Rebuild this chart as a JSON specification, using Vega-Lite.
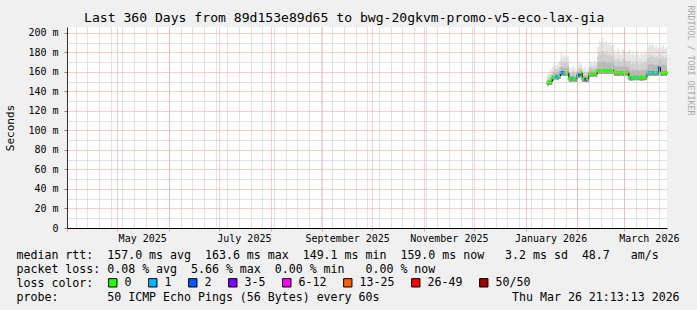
{
  "$schema": "https://vega.github.io/schema/vega-lite/v6.json",
  "width": 600,
  "height": 201,
  "autosize": {"type": "none"},
  "padding": {"left": 67, "top": 27, "right": 30, "bottom": 82},
  "background": "#f0f0f0",
  "config": {
    "view": {"stroke": null, "fill": "#ffffff"},
    "font": "DejaVu Sans Mono",
    "axis": {"labelFont": "DejaVu Sans Mono", "titleFont": "DejaVu Sans Mono", "labelColor": "#000000", "titleColor": "#000000", "titleFontWeight": "normal"}
  },
  "title": {
    "text": "Last 360 Days from 89d153e89d65 to bwg-20gkvm-promo-v5-eco-lax-gia",
    "anchor": "start", "frame": "group", "dx": 17, "dy": 24, "font": "DejaVu Sans Mono", "fontSize": 13.1,
    "fontWeight": "normal", "color": "#000000", "offset": 4
  },
  "data": {"values": [
    {"t": "2026-01-14", "med": 149, "lo": 146, "p60": 150.5, "p75": 151.5, "p90": 154.5, "max": 158, "loss": "0"},
    {"t": "2026-01-15", "med": 150, "lo": 147, "p60": 151.5, "p75": 153.5, "p90": 156.5, "max": 161, "loss": "0"},
    {"t": "2026-01-16", "med": 150, "lo": 147, "p60": 151.5, "p75": 154, "p90": 158, "max": 163, "loss": "0"},
    {"t": "2026-01-17", "med": 154, "lo": 151, "p60": 155.5, "p75": 157.5, "p90": 161, "max": 166, "loss": "0"},
    {"t": "2026-01-18", "med": 155, "lo": 152, "p60": 156.5, "p75": 159.5, "p90": 164, "max": 170, "loss": "0"},
    {"t": "2026-01-19", "med": 155.5, "lo": 152.5, "p60": 157, "p75": 159, "p90": 162.5, "max": 167, "loss": "1"},
    {"t": "2026-01-20", "med": 155, "lo": 152, "p60": 156.5, "p75": 159, "p90": 163.5, "max": 169, "loss": "1"},
    {"t": "2026-01-21", "med": 156, "lo": 153, "p60": 157.5, "p75": 160.5, "p90": 165, "max": 171, "loss": "0"},
    {"t": "2026-01-22", "med": 159, "lo": 156, "p60": 160.5, "p75": 165.5, "p90": 171.5, "max": 180, "loss": "1"},
    {"t": "2026-01-23", "med": 159.5, "lo": 156.5, "p60": 161, "p75": 164.5, "p90": 169.5, "max": 176, "loss": "2"},
    {"t": "2026-01-24", "med": 159, "lo": 156, "p60": 160.5, "p75": 164.5, "p90": 170.5, "max": 178, "loss": "1"},
    {"t": "2026-01-25", "med": 159.5, "lo": 156.5, "p60": 161, "p75": 164, "p90": 169, "max": 175, "loss": "0"},
    {"t": "2026-01-26", "med": 159, "lo": 156, "p60": 160.5, "p75": 164.5, "p90": 170, "max": 177, "loss": "0"},
    {"t": "2026-01-27", "med": 153, "lo": 150, "p60": 154.5, "p75": 156.5, "p90": 160, "max": 165, "loss": "0"},
    {"t": "2026-01-28", "med": 153, "lo": 150, "p60": 154.5, "p75": 156, "p90": 159, "max": 163, "loss": "0"},
    {"t": "2026-01-29", "med": 153.5, "lo": 150.5, "p60": 155, "p75": 157.5, "p90": 161, "max": 166, "loss": "1"},
    {"t": "2026-01-30", "med": 153, "lo": 150, "p60": 154.5, "p75": 156.5, "p90": 159.5, "max": 164, "loss": "0"},
    {"t": "2026-01-31", "med": 153, "lo": 150, "p60": 154.5, "p75": 155.5, "p90": 158.5, "max": 162, "loss": "0"},
    {"t": "2026-02-01", "med": 157, "lo": 154, "p60": 158.5, "p75": 160, "p90": 163, "max": 167, "loss": "1"},
    {"t": "2026-02-02", "med": 157, "lo": 154, "p60": 158.5, "p75": 160.5, "p90": 164, "max": 169, "loss": "2"},
    {"t": "2026-02-03", "med": 159, "lo": 156, "p60": 160.5, "p75": 161.5, "p90": 164.5, "max": 168, "loss": "0"},
    {"t": "2026-02-04", "med": 153, "lo": 150, "p60": 154.5, "p75": 156, "p90": 159, "max": 163, "loss": "0"},
    {"t": "2026-02-05", "med": 153, "lo": 150, "p60": 154.5, "p75": 156.5, "p90": 160, "max": 165, "loss": "0"},
    {"t": "2026-02-06", "med": 152.5, "lo": 149.5, "p60": 154, "p75": 155.5, "p90": 158, "max": 162, "loss": "3-5"},
    {"t": "2026-02-07", "med": 153, "lo": 150, "p60": 154.5, "p75": 156.5, "p90": 159.5, "max": 164, "loss": "0"},
    {"t": "2026-02-08", "med": 158, "lo": 155, "p60": 159.5, "p75": 161.5, "p90": 165, "max": 170, "loss": "0"},
    {"t": "2026-02-09", "med": 158.5, "lo": 155.5, "p60": 160, "p75": 162.5, "p90": 166, "max": 171, "loss": "0"},
    {"t": "2026-02-10", "med": 158, "lo": 155, "p60": 159.5, "p75": 161.5, "p90": 164.5, "max": 169, "loss": "0"},
    {"t": "2026-02-11", "med": 158.5, "lo": 155.5, "p60": 160, "p75": 162.5, "p90": 166.5, "max": 172, "loss": "0"},
    {"t": "2026-02-12", "med": 158, "lo": 155, "p60": 159.5, "p75": 161.5, "p90": 165, "max": 170, "loss": "0"},
    {"t": "2026-02-13", "med": 161.5, "lo": 158.5, "p60": 163, "p75": 169, "p90": 176, "max": 186, "loss": "0"},
    {"t": "2026-02-14", "med": 161.5, "lo": 158.5, "p60": 163, "p75": 170.5, "p90": 180, "max": 192, "loss": "0"},
    {"t": "2026-02-15", "med": 161, "lo": 158, "p60": 162.5, "p75": 169.5, "p90": 178, "max": 189, "loss": "0"},
    {"t": "2026-02-16", "med": 161.5, "lo": 158.5, "p60": 163, "p75": 171.5, "p90": 181.5, "max": 195, "loss": "0"},
    {"t": "2026-02-17", "med": 161.5, "lo": 158.5, "p60": 163, "p75": 170, "p90": 178.5, "max": 190, "loss": "0"},
    {"t": "2026-02-18", "med": 161, "lo": 158, "p60": 162.5, "p75": 170.5, "p90": 180, "max": 193, "loss": "0"},
    {"t": "2026-02-19", "med": 161.5, "lo": 158.5, "p60": 163, "p75": 169.5, "p90": 177.5, "max": 188, "loss": "0"},
    {"t": "2026-02-20", "med": 161.5, "lo": 158.5, "p60": 163, "p75": 170.5, "p90": 179, "max": 191, "loss": "0"},
    {"t": "2026-02-21", "med": 161, "lo": 158, "p60": 162.5, "p75": 169, "p90": 176.5, "max": 187, "loss": "0"},
    {"t": "2026-02-22", "med": 161.5, "lo": 158.5, "p60": 163, "p75": 170, "p90": 178, "max": 189, "loss": "0"},
    {"t": "2026-02-23", "med": 159.5, "lo": 156.5, "p60": 161, "p75": 166.5, "p90": 173, "max": 182, "loss": "0"},
    {"t": "2026-02-24", "med": 159.5, "lo": 156.5, "p60": 161, "p75": 165.5, "p90": 171, "max": 179, "loss": "0"},
    {"t": "2026-02-25", "med": 159, "lo": 156, "p60": 160.5, "p75": 166.5, "p90": 174, "max": 184, "loss": "0"},
    {"t": "2026-02-26", "med": 159.5, "lo": 156.5, "p60": 161, "p75": 165.5, "p90": 172, "max": 180, "loss": "0"},
    {"t": "2026-02-27", "med": 159.5, "lo": 156.5, "p60": 161, "p75": 165, "p90": 170.5, "max": 178, "loss": "0"},
    {"t": "2026-02-28", "med": 159, "lo": 156, "p60": 160.5, "p75": 166, "p90": 173.5, "max": 183, "loss": "0"},
    {"t": "2026-03-01", "med": 159.5, "lo": 156.5, "p60": 161, "p75": 166, "p90": 172.5, "max": 181, "loss": "0"},
    {"t": "2026-03-02", "med": 159.5, "lo": 156.5, "p60": 161, "p75": 165.5, "p90": 171, "max": 179, "loss": "0"},
    {"t": "2026-03-03", "med": 159, "lo": 156, "p60": 160.5, "p75": 165.5, "p90": 171.5, "max": 180, "loss": "0"},
    {"t": "2026-03-04", "med": 154.5, "lo": 151.5, "p60": 156, "p75": 163, "p90": 171.5, "max": 183, "loss": "0"},
    {"t": "2026-03-05", "med": 154, "lo": 151, "p60": 155.5, "p75": 161, "p90": 168.5, "max": 178, "loss": "1"},
    {"t": "2026-03-06", "med": 154.5, "lo": 151.5, "p60": 156, "p75": 162.5, "p90": 170.5, "max": 181, "loss": "0"},
    {"t": "2026-03-07", "med": 154.5, "lo": 151.5, "p60": 156, "p75": 161.5, "p90": 168, "max": 177, "loss": "0"},
    {"t": "2026-03-08", "med": 155, "lo": 152, "p60": 156.5, "p75": 163, "p90": 171, "max": 182, "loss": "0"},
    {"t": "2026-03-09", "med": 154.5, "lo": 151.5, "p60": 156, "p75": 162, "p90": 169, "max": 179, "loss": "1"},
    {"t": "2026-03-10", "med": 154.5, "lo": 151.5, "p60": 156, "p75": 161, "p90": 167.5, "max": 176, "loss": "0"},
    {"t": "2026-03-11", "med": 154, "lo": 151, "p60": 155.5, "p75": 162, "p90": 169.5, "max": 180, "loss": "0"},
    {"t": "2026-03-12", "med": 154.5, "lo": 151.5, "p60": 156, "p75": 161.5, "p90": 168.5, "max": 178, "loss": "0"},
    {"t": "2026-03-13", "med": 154.5, "lo": 151.5, "p60": 156, "p75": 162.5, "p90": 170.5, "max": 181, "loss": "0"},
    {"t": "2026-03-14", "med": 155, "lo": 152, "p60": 156.5, "p75": 162, "p90": 169.5, "max": 179, "loss": "0"},
    {"t": "2026-03-15", "med": 159, "lo": 156, "p60": 160.5, "p75": 167, "p90": 175, "max": 186, "loss": "1"},
    {"t": "2026-03-16", "med": 159.5, "lo": 156.5, "p60": 161, "p75": 168.5, "p90": 178, "max": 190, "loss": "1"},
    {"t": "2026-03-17", "med": 159, "lo": 156, "p60": 160.5, "p75": 167.5, "p90": 176, "max": 187, "loss": "0"},
    {"t": "2026-03-18", "med": 159.5, "lo": 156.5, "p60": 161, "p75": 168.5, "p90": 177, "max": 189, "loss": "1"},
    {"t": "2026-03-19", "med": 159, "lo": 156, "p60": 160.5, "p75": 167, "p90": 174.5, "max": 185, "loss": "1"},
    {"t": "2026-03-20", "med": 159.5, "lo": 156.5, "p60": 161, "p75": 168, "p90": 176.5, "max": 188, "loss": "0"},
    {"t": "2026-03-21", "med": 159, "lo": 156, "p60": 160.5, "p75": 166.5, "p90": 174, "max": 184, "loss": "1"},
    {"t": "2026-03-22", "med": 164.5, "lo": 161.5, "p60": 166, "p75": 171.5, "p90": 178, "max": 187, "loss": "2"},
    {"t": "2026-03-23", "med": 159, "lo": 156, "p60": 160.5, "p75": 167, "p90": 174.5, "max": 185, "loss": "0"},
    {"t": "2026-03-24", "med": 159, "lo": 156, "p60": 160.5, "p75": 167.5, "p90": 176.5, "max": 188, "loss": "0"},
    {"t": "2026-03-25", "med": 159.5, "lo": 156.5, "p60": 161, "p75": 167, "p90": 174, "max": 184, "loss": "0"},
    {"t": "2026-03-26", "med": 159, "lo": 156, "p60": 160.5, "p75": 167, "p90": 175, "max": 186, "loss": "0"},
    {"t": "2026-03-26T21:00:00Z", "med": 159, "lo": 156, "p60": 160.5, "p75": 167, "p90": 175, "max": 186, "loss": "0"}
  ]},
  "layer": [
    {
      "mark": {"type": "area", "interpolate": "step-after", "color": "#e6e6e6"},
      "encoding": {
        "x": {"field": "t", "type": "temporal",
          "scale": {"type": "utc", "domain": [{"year": 2025, "month": 3, "date": 31, "hours": 21, "minutes": 13, "seconds": 13, "utc": true}, {"year": 2026, "month": 3, "date": 26, "hours": 21, "minutes": 13, "seconds": 13, "utc": true}]},
          "axis": {"orient": "bottom", "tickCount": {"interval": "week", "step": 1}, "grid": true, "gridColor": "#c4c4c4", "gridDash": [1, 1], "labels": false, "ticks": false, "domain": false, "title": null, "zindex": 1}},
        "y": {"field": "lo", "type": "quantitative",
          "scale": {"domain": [0, 206.15], "nice": false, "zero": false},
          "axis": {"orient": "left", "values": [10, 30, 50, 70, 90, 110, 130, 150, 170, 190], "grid": true, "gridColor": "#c4c4c4", "gridDash": [1, 1], "labels": false, "ticks": false, "domain": false, "title": null, "zindex": 1}},
        "y2": {"field": "max"}
      }
    },
    {
      "mark": {"type": "area", "interpolate": "step-after", "color": "#d0d0d0"},
      "encoding": {
        "x": {"field": "t", "type": "temporal",
          "scale": {"type": "utc", "domain": [{"year": 2025, "month": 3, "date": 31, "hours": 21, "minutes": 13, "seconds": 13, "utc": true}, {"year": 2026, "month": 3, "date": 26, "hours": 21, "minutes": 13, "seconds": 13, "utc": true}]},
          "axis": {"orient": "bottom", "tickCount": {"interval": "month", "step": 1}, "grid": true, "gridColor": "#ee9a9a", "gridDash": [1, 1], "labels": false, "ticks": true, "tickSize": 3, "tickColor": "#ee9a9a", "domain": true, "domainColor": "#000000", "title": null, "zindex": 1}},
        "y": {"field": "lo", "type": "quantitative",
          "scale": {"domain": [0, 206.15], "nice": false, "zero": false},
          "axis": {"orient": "left", "values": [0, 20, 40, 60, 80, 100, 120, 140, 160, 180, 200], "grid": true, "gridColor": "#ee9a9a", "gridDash": [1, 1],
            "labelExpr": "datum.value == 0 ? '0' : datum.value + ' m'", "labelFontSize": 10, "labelPadding": 6,
            "ticks": true, "tickSize": 3, "tickColor": "#d06060", "domain": true, "domainColor": "#333333",
            "title": "Seconds", "titleFontSize": 11, "titleX": -57, "titleY": 100.5, "titleAngle": -90, "titleAlign": "center", "titleBaseline": "middle", "zindex": 1}},
        "y2": {"field": "p90"}
      }
    },
    {
      "mark": {"type": "area", "interpolate": "step-after", "color": "#b8b8b8"},
      "encoding": {
        "x": {"field": "t", "type": "temporal",
          "scale": {"type": "utc", "domain": [{"year": 2025, "month": 3, "date": 31, "hours": 21, "minutes": 13, "seconds": 13, "utc": true}, {"year": 2026, "month": 3, "date": 26, "hours": 21, "minutes": 13, "seconds": 13, "utc": true}]},
          "axis": {"orient": "bottom", "values": [{"year": 2025, "month": 5, "date": 16, "utc": true}, {"year": 2025, "month": 7, "date": 16, "utc": true}, {"year": 2025, "month": 9, "date": 16, "utc": true}, {"year": 2025, "month": 11, "date": 16, "utc": true}, {"year": 2026, "month": 1, "date": 16, "utc": true}, {"year": 2026, "month": 3, "date": 16, "utc": true}],
            "format": "%B %Y", "labelFontSize": 10, "labelPadding": 5, "labelFlush": false, "labelOverlap": false, "ticks": false, "grid": false, "domain": false,
            "title": ["median\u00a0rtt:\u00a0\u00a0157.0\u00a0ms\u00a0avg\u00a0\u00a0163.6\u00a0ms\u00a0max\u00a0\u00a0149.1\u00a0ms\u00a0min\u00a0\u00a0159.0\u00a0ms\u00a0now\u00a0\u00a0\u00a03.2\u00a0ms\u00a0sd\u00a0\u00a048.7\u00a0\u00a0\u00a0am/s",
                      "packet\u00a0loss:\u00a00.08\u00a0%\u00a0avg\u00a0\u00a05.66\u00a0%\u00a0max\u00a0\u00a00.00\u00a0%\u00a0min\u00a0\u00a0\u00a00.00\u00a0%\u00a0now",
                      "loss\u00a0color:",
                      "probe:\u00a0\u00a0\u00a0\u00a0\u00a0\u00a0\u00a050\u00a0ICMP\u00a0Echo\u00a0Pings\u00a0(56\u00a0Bytes)\u00a0every\u00a060s\u00a0\u00a0\u00a0\u00a0\u00a0\u00a0\u00a0\u00a0\u00a0\u00a0\u00a0\u00a0\u00a0\u00a0\u00a0\u00a0\u00a0\u00a0\u00a0Thu\u00a0Mar\u00a026\u00a021:13:13\u00a02026"],
            "titleFontSize": 11.6, "titleX": -51, "titleY": 30, "titleAlign": "left", "titleBaseline": "alphabetic", "titleLineHeight": 14, "titleAngle": 0}},
        "y": {"field": "lo", "type": "quantitative",
          "scale": {"domain": [0, 206.15], "nice": false, "zero": false},
          "axis": {"orient": "right", "labels": false, "ticks": false, "grid": false, "domain": false,
            "title": "RRDTOOL / TOBI OETIKER", "titleAngle": 90, "titleX": 22, "titleY": -22, "titleAlign": "left", "titleBaseline": "middle", "titleFontSize": 8.3, "titleColor": "#a8a8a8"}},
        "y2": {"field": "p75"}
      }
    },
    {
      "mark": {"type": "area", "interpolate": "step-after", "color": "#929292"},
      "encoding": {
        "x": {"field": "t", "type": "temporal", "axis": null},
        "y": {"field": "lo", "type": "quantitative", "axis": null},
        "y2": {"field": "p60"}
      }
    },
    {
      "mark": {"type": "line", "interpolate": "step-after", "color": "#000000", "strokeWidth": 1},
      "encoding": {
        "x": {"field": "t", "type": "temporal", "axis": null},
        "y": {"field": "med", "type": "quantitative", "axis": null}
      }
    },
    {
      "mark": {"type": "tick", "orient": "horizontal", "thickness": 3, "size": 2.2, "opacity": 1},
      "encoding": {
        "x": {"field": "t", "type": "temporal", "axis": null},
        "y": {"field": "med", "type": "quantitative", "axis": null},
        "color": {"field": "loss", "type": "nominal",
          "scale": {"domain": ["0", "1", "2", "3-5", "6-12", "13-25", "26-49", "50/50"], "range": ["#26ff00", "#00b8ff", "#0059ff", "#7e00ff", "#ff00ff", "#ff5e00", "#ff0000", "#a10000"]},
          "legend": {"orient": "none", "legendX": 40, "legendY": 250, "direction": "horizontal",
            "title": null,
            "labelFont": "DejaVu Sans Mono", "labelFontSize": 11.6, "labelColor": "#000000", "labelOffset": 6, "columnPadding": 14,
            "symbolType": "square", "symbolSize": 70, "symbolStrokeColor": "#000000", "symbolStrokeWidth": 1, "symbolOpacity": 1,
            "encode": {"symbols": {"update": {"fill": {"scale": "color", "field": "value"}, "stroke": {"value": "#000000"}, "fillOpacity": {"value": 1}}}}}}
      }
    }
  ],
  "resolve": {"axis": {"x": "independent", "y": "independent"}}
}
